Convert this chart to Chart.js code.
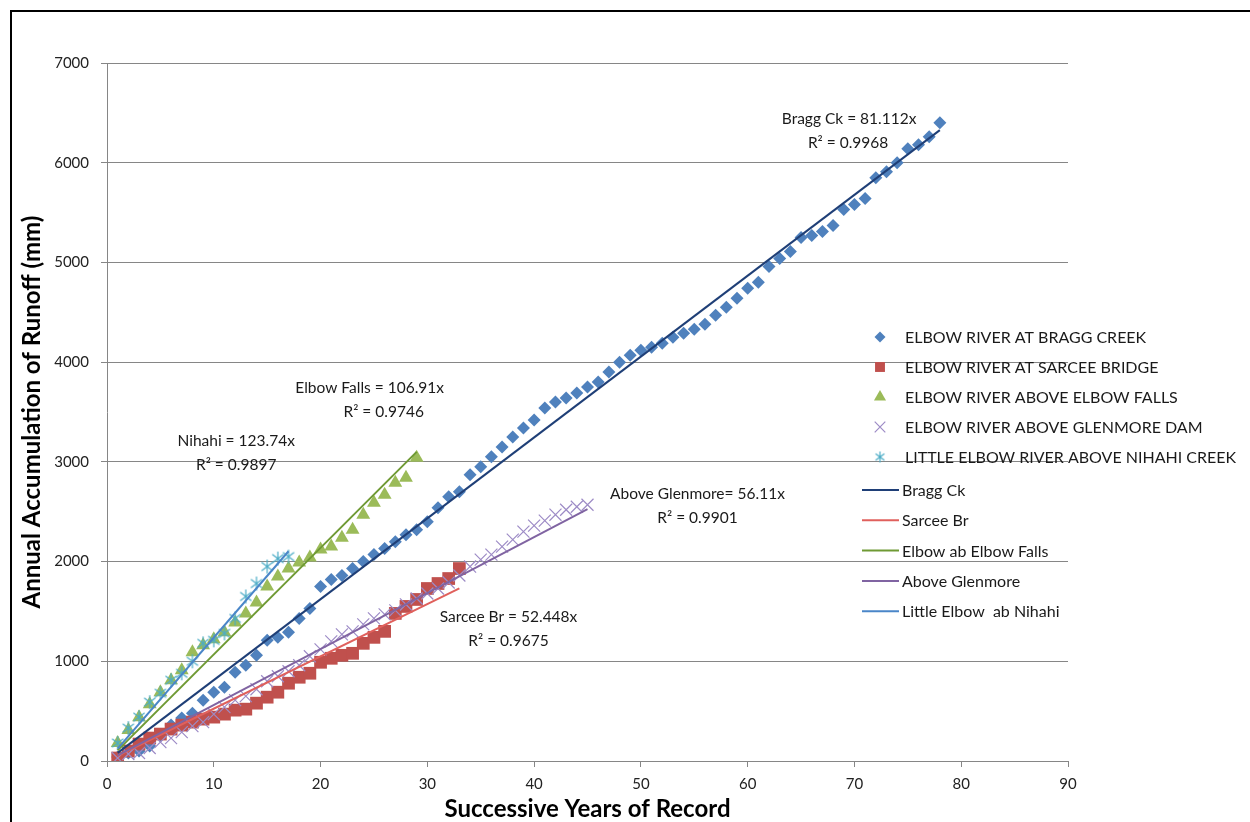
<!DOCTYPE html>
<html>
<head>
<meta charset="utf-8">
<script src="https://cdn.jsdelivr.net/npm/chart.js@4.4.0/dist/chart.umd.min.js"></script>
<style>
  html, body { margin: 0; padding: 0; background: #fff; }
  canvas { display: block; }
</style>
</head>
<body>
<canvas id="runoffChart" width="1250" height="822"></canvas>
<script>
// annual accumulated runoff (mm), one value per successive year of record (year 1, 2, 3 ...)
const braggCk = [40, 80, 100, 150, 250, 360, 430, 480, 610, 690,
    740, 890, 960, 1060, 1210, 1240, 1290, 1430, 1530, 1750,
    1820, 1860, 1930, 2000, 2070, 2130, 2200, 2270, 2320, 2400,
    2540, 2650, 2700, 2870, 2950, 3050, 3150, 3250, 3340, 3420,
    3540, 3600, 3640, 3690, 3750, 3800, 3900, 4000, 4070, 4120,
    4150, 4190, 4250, 4290, 4330, 4380, 4470, 4550, 4640, 4740,
    4800, 4960, 5040, 5110, 5250, 5270, 5310, 5370, 5530, 5580,
    5640, 5850, 5910, 6000, 6140, 6180, 6260, 6400];
const sarceeBr = [30, 100, 170, 230, 270, 320, 360, 390, 420, 440,
    470, 510, 520, 580, 640, 690, 780, 840, 880, 990,
    1030, 1060, 1080, 1180, 1240, 1300, 1480, 1550, 1620, 1730,
    1780, 1830, 1930];
const elbowFalls = [180, 310, 440, 570, 690, 810, 910, 1090, 1160, 1220,
    1290, 1390, 1480, 1590, 1750, 1850, 1930, 1990, 2040, 2120,
    2150, 2240, 2320, 2470, 2590, 2670, 2790, 2840, 3040];
const aboveGlenmore = [30, 70, 80, 130, 190, 230, 290, 350, 390, 470,
    540, 610, 650, 720, 800, 850, 900, 960, 1050, 1120,
    1200, 1270, 1300, 1370, 1430, 1470, 1510, 1570, 1630, 1680,
    1730, 1790, 1860, 1950, 2020, 2070, 2150, 2220, 2300, 2360,
    2410, 2470, 2520, 2550, 2570];
const nihahi = [180, 330, 440, 590, 680, 810, 880, 1000, 1180, 1210,
    1280, 1430, 1650, 1780, 1950, 2030, 2050];

const seriesNames = ['ELBOW RIVER AT BRAGG CREEK', 'ELBOW RIVER AT SARCEE BRIDGE',
    'ELBOW RIVER ABOVE ELBOW FALLS', 'ELBOW RIVER ABOVE GLENMORE DAM',
    'LITTLE ELBOW RIVER ABOVE NIHAHI CREEK'];
const trendNames = ['Bragg Ck', 'Sarcee Br', 'Elbow ab Elbow Falls', 'Above Glenmore', 'Little Elbow  ab Nihahi'];
const trendSlopes = [81.112, 52.448, 106.91, 56.11, 123.74];
const eqTexts = ['Bragg Ck = 81.112x', 'Sarcee Br = 52.448x', 'Elbow Falls = 106.91x', 'Above Glenmore= 56.11x', 'Nihahi = 123.74x'];
const r2Texts = ['R² = 0.9968', 'R² = 0.9675', 'R² = 0.9746', 'R² = 0.9901', 'R² = 0.9897'];

const allSeries = [braggCk, sarceeBr, elbowFalls, aboveGlenmore, nihahi];

// styling
const FONT = 'Lato, "Open Sans", sans-serif';
const markerColors = ['#4F81BD', '#C0504D', '#9BBB59', '#9D8BC6', '#4BACC6'];
const lineColors = ['#1F3F77', '#E0605C', '#6F9A34', '#8064A2', '#4A86C8'];
// where the equation labels sit (data units), and small x nudge for the R² line (px)
const eqAnchors = [[69.5, 6440], [37.6, 1445], [24.6, 3740], [55.3, 2680], [12.1, 3210]];
const r2Nudge = [-1, 0, 14, 0, 0];

function toPoints(values) {
    return values.map((v, i) => ({ x: i + 1, y: v }));
}

function makeAsterisk(size, color) {
    const c = document.createElement('canvas');
    c.width = size; c.height = size;
    const g = c.getContext('2d');
    const m = size / 2, r = size / 2 - 1;
    g.strokeStyle = color;
    g.lineWidth = 1.2;
    g.beginPath();
    g.moveTo(m, m - r); g.lineTo(m, m + r);
    g.moveTo(m - r * 0.8, m - r * 0.6); g.lineTo(m + r * 0.8, m + r * 0.6);
    g.moveTo(m - r * 0.8, m + r * 0.6); g.lineTo(m + r * 0.8, m - r * 0.6);
    g.stroke();
    return c;
}
const asteriskBig = makeAsterisk(16, markerColors[4]);
const asteriskSmall = makeAsterisk(13, markerColors[4]);

const markerStyles = [
    { pointStyle: 'rectRot', radius: 6.5, legendRadius: 5.5, borderWidth: 0 },
    { pointStyle: 'rect', radius: 9, legendRadius: 7, borderWidth: 0 },
    { pointStyle: 'triangle', radius: 8, legendRadius: 7, borderWidth: 0 },
    { pointStyle: 'crossRot', radius: 8.5, legendRadius: 7.5, borderWidth: 1.2 },
    { pointStyle: asteriskBig, legendStyle: asteriskSmall, radius: 8, legendRadius: 6, borderWidth: 1 }
];

const datasets = [];
allSeries.forEach((vals, i) => {
    const st = markerStyles[i];
    datasets.push({
        label: seriesNames[i],
        data: toPoints(vals),
        pointStyle: st.pointStyle,
        pointRadius: st.radius,
        pointBackgroundColor: markerColors[i],
        pointBorderColor: markerColors[i],
        pointBorderWidth: st.borderWidth,
        showLine: false,
        order: 10 - i
    });
});
allSeries.forEach((vals, i) => {
    const n = vals.length;
    datasets.push({
        label: trendNames[i],
        data: [{ x: 1, y: trendSlopes[i] }, { x: n, y: trendSlopes[i] * n }],
        showLine: true,
        borderColor: lineColors[i],
        borderWidth: 2,
        pointRadius: 0,
        order: 5 - i
    });
});

const decorPlugin = {
    id: 'decor',
    beforeDraw(chart) {
        const ctx = chart.ctx;
        ctx.save();
        ctx.fillStyle = '#fff';
        ctx.fillRect(0, 0, chart.width, chart.height);
        ctx.restore();
    },
    afterDraw(chart) {
        const ctx = chart.ctx;
        const xs = chart.scales.x, ys = chart.scales.y;
        ctx.save();

        // outer frame (only left and top edges show)
        ctx.strokeStyle = '#000';
        ctx.lineWidth = 2;
        ctx.beginPath();
        ctx.moveTo(11, chart.height);
        ctx.lineTo(11, 11);
        ctx.lineTo(chart.width, 11);
        ctx.stroke();

        // trendline equations
        ctx.font = '15.5px ' + FONT;
        ctx.fillStyle = '#1a1a1a';
        ctx.textAlign = 'center';
        ctx.textBaseline = 'middle';
        eqTexts.forEach((t, i) => {
            const px = xs.getPixelForValue(eqAnchors[i][0]);
            const py = ys.getPixelForValue(eqAnchors[i][1]);
            ctx.fillText(t, px, py);
            ctx.fillText(r2Texts[i], px + r2Nudge[i], py + 24);
        });

        // legend
        ctx.textAlign = 'left';
        ctx.font = '16px ' + FONT;
        seriesNames.forEach((name, i) => {
            const y = 337 + i * 30;
            const st = markerStyles[i];
            ctx.fillStyle = markerColors[i];
            ctx.strokeStyle = markerColors[i];
            ctx.lineWidth = st.borderWidth || 1;
            Chart.helpers.drawPoint(ctx, {
                pointStyle: st.legendStyle || st.pointStyle,
                radius: st.legendRadius,
                rotation: 0,
                borderWidth: st.borderWidth
            }, 880, y);
            ctx.fillStyle = '#1a1a1a';
            ctx.fillText(name, 905, y + 1);
        });
        trendNames.forEach((name, i) => {
            const y = 490 + i * 30.3;
            ctx.strokeStyle = lineColors[i];
            ctx.lineWidth = 2;
            ctx.beginPath();
            ctx.moveTo(862, y);
            ctx.lineTo(899, y);
            ctx.stroke();
            ctx.fillStyle = '#1a1a1a';
            ctx.fillText(name, 902, y + 1);
        });
        ctx.restore();
    }
};

new Chart(document.getElementById('runoffChart').getContext('2d'), {
    type: 'scatter',
    data: { datasets: datasets },
    options: {
        responsive: false,
        animation: false,
        layout: { padding: { top: 63, right: 182, left: 0, bottom: 0 } },
        plugins: {
            legend: { display: false },
            tooltip: { enabled: false }
        },
        scales: {
            x: {
                type: 'linear',
                min: 0,
                max: 90,
                ticks: { stepSize: 10, padding: 8, color: '#222', font: { family: FONT, size: 15 } },
                grid: { drawOnChartArea: false, drawTicks: true, tickLength: 6, color: '#868686' },
                border: { color: '#868686', width: 1 },
                title: {
                    display: true,
                    text: 'Successive Years of Record',
                    color: '#000',
                    font: { family: FONT, size: 24, weight: 'bold' },
                    padding: { top: 0, bottom: -2 }
                },
                afterFit(scale) { scale.height = 61; }
            },
            y: {
                min: 0,
                max: 7000,
                ticks: {
                    stepSize: 1000, padding: 12, color: '#222', font: { family: FONT, size: 15 },
                    callback: (v) => String(v)
                },
                grid: { color: '#868686', tickLength: 6 },
                border: { color: '#868686', width: 1 },
                title: {
                    display: true,
                    text: 'Annual Accumulation of Runoff (mm)',
                    color: '#000',
                    font: { family: FONT, size: 24, weight: 'bold' },
                    padding: { top: 18, bottom: 0 }
                },
                afterFit(scale) { scale.width = 107; }
            }
        }
    },
    plugins: [decorPlugin]
});
</script>
</body>
</html>
